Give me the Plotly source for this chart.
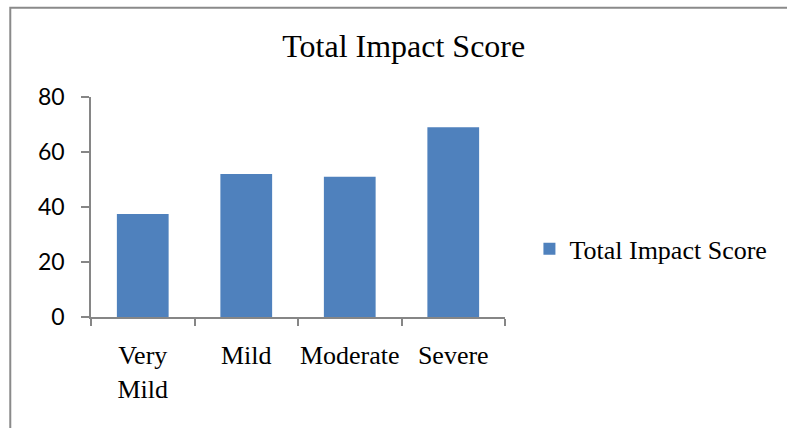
import plotly.graph_objects as go

# Severity groups and their total impact scores
categories = ["Very<br>Mild", "Mild", "Moderate", "Severe"]
scores = [37.5, 52, 51, 69]
series_name = "Total Impact Score"
y_ticks = [0, 20, 40, 60, 80]

BAR_BLUE = "#4F81BD"
AXIS_GRAY = "#868686"
SERIF = "Liberation Serif, Times New Roman, serif"
SANS = "Lato, Liberation Sans, sans-serif"

fig = go.Figure(
    go.Bar(
        x=categories,
        y=scores,
        name=series_name,
        marker=dict(color=BAR_BLUE, line=dict(width=0)),
        showlegend=True,
    )
)

fig.update_layout(
    width=787,
    height=428,
    margin=dict(l=91, r=282, t=97, b=111, autoexpand=False),
    paper_bgcolor="white",
    plot_bgcolor="white",
    bargap=0.5,
    title=dict(
        text="Total Impact Score",
        font=dict(family=SERIF, size=32, color="black"),
        xref="container",
        x=0.513,
        xanchor="center",
        yref="container",
        y=0.892,
        yanchor="middle",
    ),
    legend=dict(
        font=dict(family=SERIF, size=26, color="black"),
        x=1.059,
        xanchor="left",
        y=0.31,
        yanchor="middle",
        bgcolor="rgba(0,0,0,0)",
        borderwidth=0,
    ),
    xaxis=dict(
        range=[-0.5, 3.5],
        showline=True,
        linecolor=AXIS_GRAY,
        linewidth=1.5,
        ticks="outside",
        tickson="boundaries",
        ticklen=7,
        tickcolor=AXIS_GRAY,
        tickwidth=1.5,
        showgrid=False,
        tickangle=0,
        automargin=False,
        tickfont=dict(family=SERIF, size=26, color="black"),
        ticklabelstandoff=14,
    ),
    yaxis=dict(
        range=[0, 80],
        tickvals=y_ticks,
        showline=True,
        linecolor=AXIS_GRAY,
        linewidth=1.5,
        ticks="outside",
        ticklen=8,
        tickcolor=AXIS_GRAY,
        tickwidth=1.5,
        showgrid=False,
        zeroline=False,
        automargin=False,
        tickfont=dict(family=SANS, size=23, color="black"),
        ticklabelstandoff=12,
    ),
)

# Chart frame: left and top edges sit inside the page, the rest runs off it
fig.add_shape(
    type="rect",
    xref="paper",
    yref="paper",
    x0=-0.195,
    x1=1.9,
    y0=-0.6,
    y1=1.406,
    line=dict(color="#8a8a8a", width=2),
    fillcolor="rgba(0,0,0,0)",
    layer="below",
)

fig.write_html("out.html")
